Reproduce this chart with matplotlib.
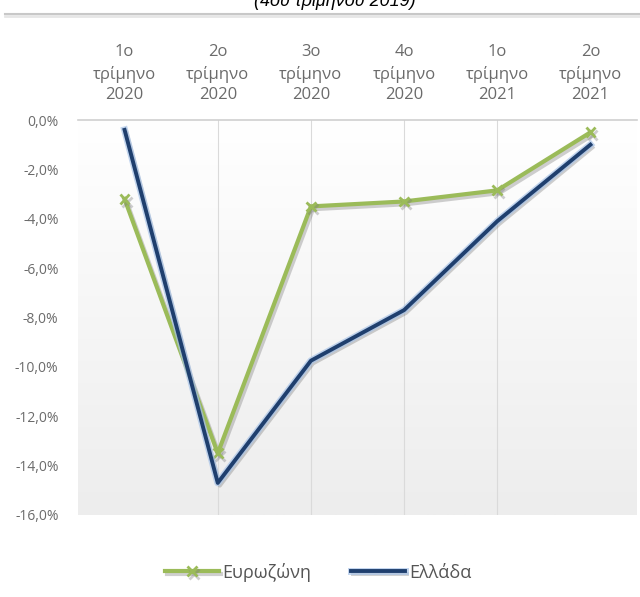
import numpy as np
import matplotlib.pyplot as plt
import matplotlib.patheffects as pe

plt.rcParams['font.family'] = ['Open Sans', 'DejaVu Sans']

# δεδομένα (% μεταβολή)
quarters = ['1ο\nτρίμηνο\n2020', '2ο\nτρίμηνο\n2020', '3ο\nτρίμηνο\n2020',
            '4ο\nτρίμηνο\n2020', '1ο\nτρίμηνο\n2021', '2ο\nτρίμηνο\n2021']
eurozone = [-3.2, -13.5, -3.5, -3.3, -2.85, -0.5]
greece = [-0.4, -14.7, -9.75, -7.7, -4.1, -1.0]
yticks = [0, -2, -4, -6, -8, -10, -12, -14, -16]

green = '#9BBB59'
blue = '#1F3F6E'
grey_txt = '#6B6B6B'

fig = plt.figure(figsize=(6.4, 5.97), dpi=100)
ax = fig.add_axes([78/640, 1-515/597, (637-78)/640, (515-120)/597])

x = np.arange(len(quarters))
ax.set_xlim(-0.5, len(quarters) - 0.5)
ax.set_ylim(-16, 0)

# φόντο με διαβάθμιση
grad = np.linspace(0, 1, 256).reshape(-1, 1)
ax.imshow(grad, cmap=plt.matplotlib.colors.LinearSegmentedColormap.from_list('g', ['#FFFFFF', '#EDEDED']),
          extent=[-0.5, len(quarters) - 0.5, -16, 0], aspect='auto', zorder=0)

for xi in x[1:5]:
    ax.axvline(xi, color='#DADADA', lw=0.8, zorder=1)
ax.axhline(0, color='#D0D0D0', lw=1.2, zorder=1, clip_on=False)

shadow = [pe.SimpleLineShadow(offset=(1.5, -2), shadow_color='#777777', alpha=0.35), pe.Normal()]
blue_fx = [pe.SimpleLineShadow(offset=(1.5, -2), shadow_color='#777777', alpha=0.35),
           pe.Stroke(linewidth=5, foreground='#A9C4E8', alpha=0.7), pe.Normal()]

ax.plot(x, eurozone, color=green, lw=3, marker='x', ms=7, mew=2,
        label='Ευρωζώνη', path_effects=shadow, zorder=3)
ax.plot(x, greece, color=blue, lw=2.8, label='Ελλάδα', path_effects=blue_fx, zorder=4)

ax.set_yticks(yticks)
ax.set_yticklabels([f'{v:.1f}%'.replace('.', ',') for v in yticks], color=grey_txt, fontsize=10)
ax.tick_params(axis='y', length=0, pad=14)
ax.set_xticks(x)
ax.set_xticklabels(quarters, color=grey_txt, fontsize=12, linespacing=1.4)
ax.xaxis.tick_top()
ax.tick_params(axis='x', length=0, pad=12)
for s in ax.spines.values():
    s.set_visible(False)

# κομμένος τίτλος στο πάνω μέρος
fig.text(0.523, 1 - 6/597, '(4ου τριμήνου 2019)', ha='center', va='baseline',
         fontsize=13, style='italic', family=['Liberation Sans', 'DejaVu Sans'])
fig.add_artist(plt.Line2D([5/640, 1], [1 - 14/597] * 2, color='#C8C8C8', lw=1.5))
fig.add_artist(plt.Line2D([5/640, 1], [1 - 16/597] * 2, color='#E6E6E6', lw=2))

leg = fig.legend(loc='center', bbox_to_anchor=(318/640, 1 - 572/597), ncol=2, frameon=False,
                 fontsize=13, handlelength=3, columnspacing=2.2, handletextpad=0.2)
for t in leg.get_texts():
    t.set_color('#555555')

fig.savefig('out.png', dpi=100)
